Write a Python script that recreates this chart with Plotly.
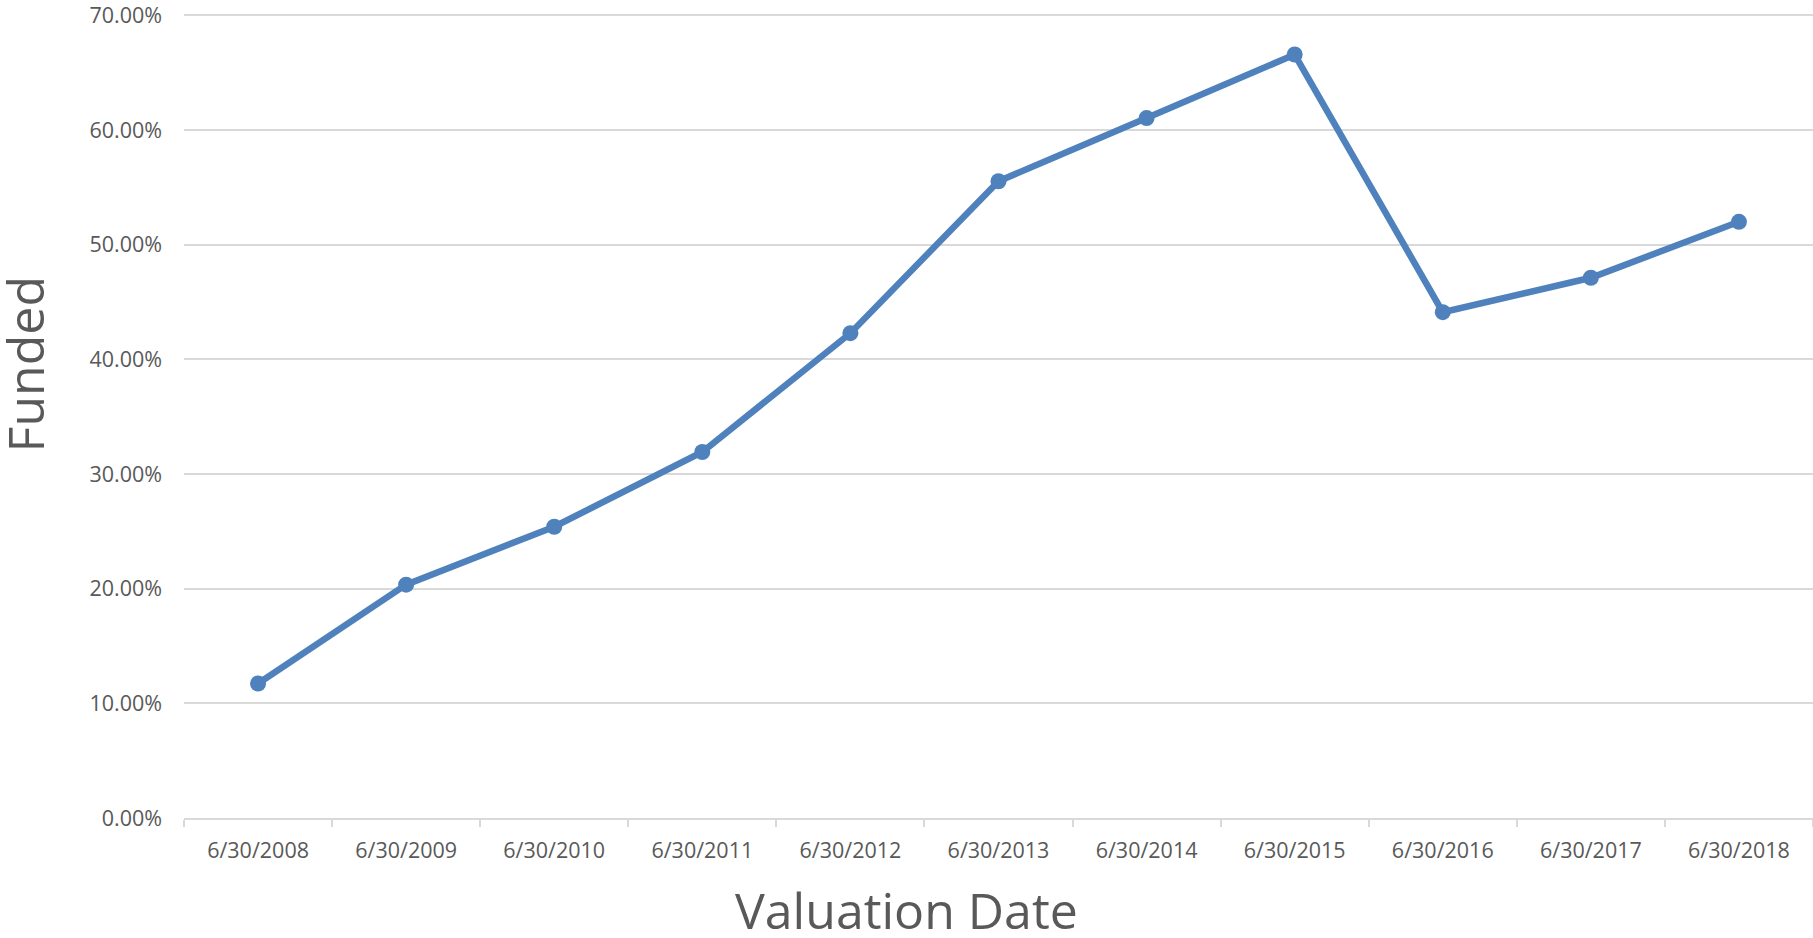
import plotly.graph_objects as go

dates = ["6/30/2008", "6/30/2009", "6/30/2010", "6/30/2011", "6/30/2012", "6/30/2013",
         "6/30/2014", "6/30/2015", "6/30/2016", "6/30/2017", "6/30/2018"]
funded = [0.1173, 0.2035, 0.2540, 0.3192, 0.4228, 0.5553, 0.6104, 0.6658, 0.4411, 0.4711, 0.5199]
y_ticks = [0, 0.1, 0.2, 0.3, 0.4, 0.5, 0.6, 0.7]

W, H = 1813, 938
L, R, T, B = 184, 0, 7, 120
pw, ph = W - L - R, H - T - B

fig = go.Figure()
fig.add_trace(go.Scatter(
    x=dates, y=funded, mode="lines+markers",
    line=dict(color="#4F81BD", width=6.5),
    marker=dict(color="#4F81BD", size=16),
    showlegend=False,
))

font_family = "Open Sans"
fig.update_layout(
    width=W, height=H,
    margin=dict(l=L, r=R, t=T, b=B),
    paper_bgcolor="white", plot_bgcolor="white",
    font=dict(family=font_family, color="#595959"),
    xaxis=dict(
        type="category", showgrid=False, showline=True, linecolor="#D9D9D9", linewidth=1.5,
        ticks="outside", tickson="boundaries", ticklen=7, tickcolor="#D9D9D9", tickwidth=1.5,
        tickfont=dict(size=21.5, color="#595959"), ticklabelstandoff=12,
        range=[-0.5, 10.5],
    ),
    yaxis=dict(
        range=[0, 0.702], tickvals=y_ticks, tickformat=".2%",
        showgrid=True, gridcolor="#D9D9D9", gridwidth=1.5, zeroline=False, showline=False,
        tickfont=dict(size=21.5, color="#595959"), ticklabelstandoff=21,
        ticklabeloverflow="allow",
    ),
    annotations=[
        dict(text="Valuation Date", xref="paper", yref="paper",
             x=(906 - L) / pw, y=(818 - 911) / ph, xanchor="center", yanchor="middle",
             showarrow=False, font=dict(size=50, color="#595959", family=font_family)),
        dict(text="Funded", xref="paper", yref="paper", textangle=-90,
             x=(25 - L) / pw, y=(818 - 361) / ph, xanchor="center", yanchor="middle",
             showarrow=False, font=dict(size=50, color="#595959", family=font_family)),
    ],
)

fig.write_html("out.html", config={"displayModeBar": False},
               post_script="document.body.style.margin='0';document.body.style.padding='0';")
